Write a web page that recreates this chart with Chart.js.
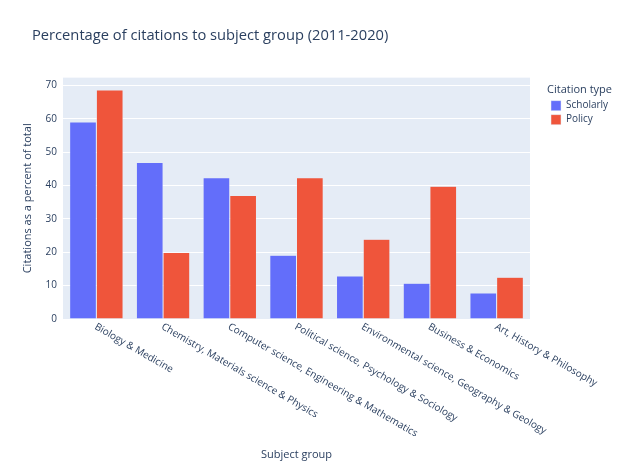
<!DOCTYPE html>
<html>
<head>
<meta charset="utf-8">
<script src="https://cdn.jsdelivr.net/npm/chart.js@4/dist/chart.umd.min.js"></script>
<style>
html,body{margin:0;padding:0;background:#fff;}
#wrap{width:629px;height:470px;}
</style>
</head>
<body>
<div id="wrap"><canvas id="c" width="629" height="470"></canvas></div>
<script>
const categories = [
  "Biology & Medicine",
  "Chemistry, Materials science & Physics",
  "Computer science, Engineering & Mathematics",
  "Political science, Psychology & Sociology",
  "Environmental science, Geography & Geology",
  "Business & Economics",
  "Art, History & Philosophy"
];
const scholarly = [59.0, 46.9, 42.3, 19.1, 12.9, 10.7, 7.8];
const policy = [68.6, 19.9, 37.0, 42.3, 23.9, 39.8, 12.5];
const seriesNames = ["Scholarly", "Policy"];
const yTicks = [0, 10, 20, 30, 40, 50, 60, 70];

const FONT = '"Open Sans", "Liberation Sans", sans-serif';
const TXT = '#2a3f5f';

const plotBg = {
  id: 'plotBg',
  beforeDraw(chart) {
    const a = chart.chartArea, ctx = chart.ctx;
    ctx.save();
    ctx.fillStyle = '#e5ecf6';
    ctx.fillRect(a.left, a.top, a.right - a.left, a.bottom - a.top);
    ctx.restore();
  }
};
const titleShift = {
  id: 'titleShift',
  afterLayout(chart) {
    if (chart.titleBlock) { chart.titleBlock.left = 32; }
  }
};
const slantedLabels = {
  id: 'slantedLabels',
  afterDraw(chart) {
    const ctx = chart.ctx, xs = chart.scales.x;
    ctx.save();
    ctx.font = '10px ' + FONT;
    ctx.fillStyle = TXT;
    ctx.textAlign = 'left';
    ctx.textBaseline = 'middle';
    categories.forEach((c, i) => {
      const x = xs.getPixelForValue(i);
      ctx.save();
      ctx.translate(x - 1, xs.top + 7);
      ctx.rotate(Math.PI / 6);
      ctx.fillText(c, 0, 0);
      ctx.restore();
    });
    ctx.restore();
  }
};

new Chart(document.getElementById('c'), {
  type: 'bar',
  data: {
    labels: categories,
    datasets: [
      { label: seriesNames[0], data: scholarly, backgroundColor: '#636efa', borderColor: '#e5ecf6', borderWidth: 0.5, categoryPercentage: 0.8, barPercentage: 1.0 },
      { label: seriesNames[1], data: policy, backgroundColor: '#ef553b', borderColor: '#e5ecf6', borderWidth: 0.5, categoryPercentage: 0.8, barPercentage: 1.0 }
    ]
  },
  options: {
    responsive: false,
    animation: false,
    devicePixelRatio: 1,
    layout: { padding: { left: 14, right: 16, top: 0, bottom: 8 } },
    plugins: {
      tooltip: { enabled: false },
      title: {
        display: true,
        text: 'Percentage of citations to subject group (2011-2020)',
        align: 'start',
        color: TXT,
        font: { family: FONT, size: 14.7, weight: 'normal' },
        padding: { top: 27, bottom: 33 }
      },
      legend: {
        display: true,
        position: 'right',
        align: 'start',
        fullSize: false,
        maxWidth: 66,
        title: {
          display: true,
          text: 'Citation type',
          position: 'start',
          color: TXT,
          font: { family: FONT, size: 11, lineHeight: 1.0 },
          padding: { top: 7, bottom: 1 }
        },
        labels: {
          color: TXT,
          font: { family: FONT, size: 10 },
          boxWidth: 10,
          boxHeight: 10,
          padding: 4
        }
      }
    },
    scales: {
      x: {
        grid: { display: false },
        border: { display: false },
        ticks: { display: false },
        title: { display: true, text: 'Subject group', color: TXT, font: { family: FONT, size: 11 }, padding: { top: 0, bottom: 1 } },
        afterFit(s) { s.height = 143; }
      },
      y: {
        min: 0,
        max: 72.3,
        afterBuildTicks(s) { s.ticks = yTicks.map(v => ({ value: v })); },
        grid: { color: '#ffffff', lineWidth: 1, drawTicks: false },
        border: { display: false },
        ticks: { color: TXT, font: { family: FONT, size: 10 }, padding: 6 },
        title: { display: true, text: 'Citations as a percent of total', color: TXT, font: { family: FONT, size: 11 }, padding: { top: 7, bottom: 4 } },
        afterFit(s) { s.width = 49; }
      },
      y2: {
        position: 'right',
        display: true,
        grid: { display: false },
        border: { display: false },
        ticks: { display: false },
        afterFit(s) { s.width = 17; }
      }
    }
  },
  plugins: [plotBg, titleShift, slantedLabels]
});
</script>
</body>
</html>
